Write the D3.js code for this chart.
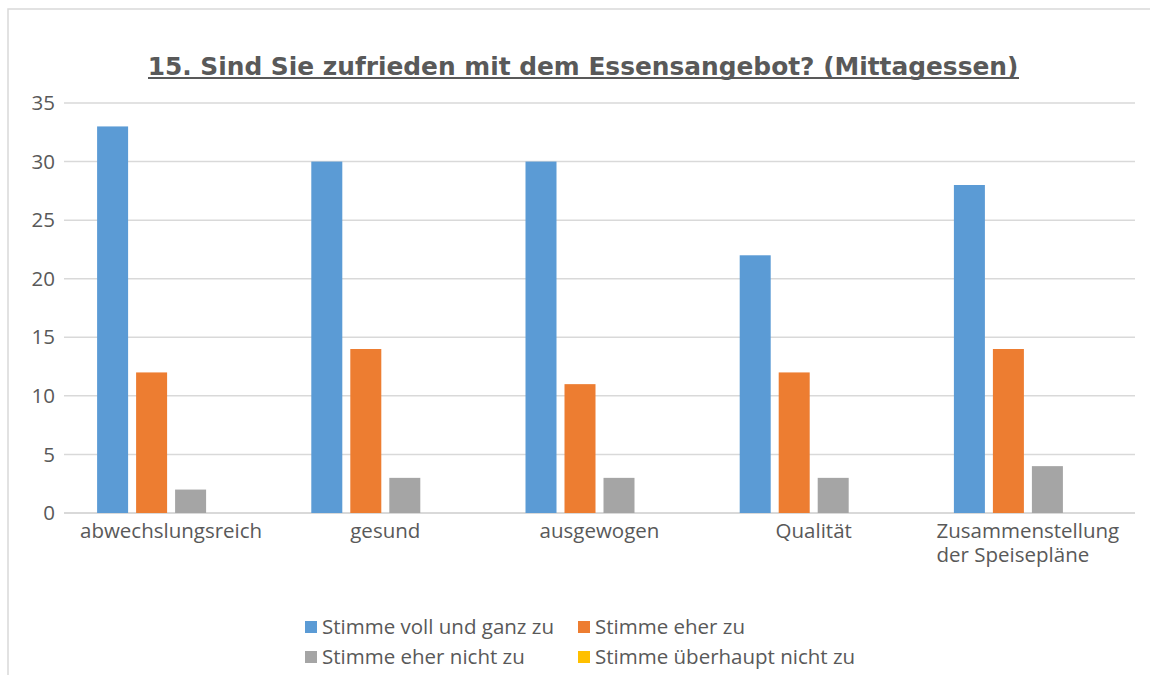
<!DOCTYPE html>
<html lang="de">
<head>
<meta charset="UTF-8">
<title>15. Sind Sie zufrieden mit dem Essensangebot?</title>
<script src="https://d3js.org/d3.v7.min.js"></script>
<style>
    body { margin: 0; background: #fff; }
    svg text { font-family: 'Open Sans', Lato, sans-serif; fill: #595959; }
</style>
</head>
<body>
<svg id="chart" width="1150" height="675"></svg>
<script>
    var categories = ['abwechslungsreich', 'gesund', 'ausgewogen', 'Qualität', 'Zusammenstellung der Speisepläne'];
    var seriesNames = ['Stimme voll und ganz zu', 'Stimme eher zu', 'Stimme eher nicht zu', 'Stimme überhaupt nicht zu'];
    var vollUndGanz = [33, 30, 30, 22, 28];
    var eherZu = [12, 14, 11, 12, 14];
    var eherNicht = [2, 3, 3, 3, 4];
    var ueberhauptNicht = [0, 0, 0, 0, 0];
    var yTicks = [0, 5, 10, 15, 20, 25, 30, 35];
    var colors = ['#5B9BD5', '#ED7D31', '#A5A5A5', '#FFC000'];

    var series = [vollUndGanz, eherZu, eherNicht, ueberhauptNicht];

    var svg = d3.select('#chart');
    var fontSize = '20.5px';

    // chart frame
    svg.append('rect')
        .attr('x', 8).attr('y', 9)
        .attr('width', 1160).attr('height', 700)
        .attr('fill', 'none')
        .attr('stroke', '#d9d9d9')
        .attr('stroke-width', 1.5);

    // title (underlined), sized to span the same width as the original
    var title = svg.append('text')
        .attr('x', 583).attr('y', 75)
        .attr('text-anchor', 'middle')
        .style('font-family', "'DejaVu Sans', sans-serif")
        .style('font-weight', 'bold')
        .style('font-size', '28px')
        .text('15. Sind Sie zufrieden mit dem Essensangebot? (Mittagessen)');
    var tw = title.node().getComputedTextLength();
    title.style('font-size', (28 * 871 / tw) + 'px');
    svg.append('line')
        .attr('x1', 148).attr('x2', 1019)
        .attr('y1', 78).attr('y2', 78)
        .attr('stroke', '#595959')
        .attr('stroke-width', 2);

    var plotLeft = 64, plotRight = 1135, plotTop = 103, plotBottom = 513;

    var y = d3.scaleLinear().domain([0, 35]).range([plotBottom, plotTop]);
    var x0 = d3.scaleBand().domain(categories).range([plotLeft, plotRight]).padding(0);
    var x1 = d3.scaleBand().domain(d3.range(seriesNames.length))
        .range([x0.bandwidth() / 2 - 74, x0.bandwidth() / 2 + 74])
        .paddingInner(8 / 39).paddingOuter(0);

    // gridlines
    svg.append('g').selectAll('line')
        .data(yTicks)
        .enter().append('line')
        .attr('x1', plotLeft).attr('x2', plotRight)
        .attr('y1', function (d) { return y(d); })
        .attr('y2', function (d) { return y(d); })
        .attr('stroke', '#d9d9d9')
        .attr('stroke-width', function (d) { return d === 0 ? 2 : 1.5; });

    // y labels
    svg.append('g').selectAll('text')
        .data(yTicks)
        .enter().append('text')
        .attr('x', 55)
        .attr('y', function (d) { return y(d); })
        .attr('dy', '0.35em')
        .attr('text-anchor', 'end')
        .style('font-size', fontSize)
        .text(function (d) { return d; });

    // bars
    var groups = svg.append('g').selectAll('g')
        .data(categories)
        .enter().append('g')
        .attr('transform', function (d) { return 'translate(' + x0(d) + ',0)'; });

    groups.selectAll('rect')
        .data(function (d, i) { return series.map(function (s, j) { return {s: j, v: s[i]}; }); })
        .enter().append('rect')
        .attr('x', function (d) { return x1(d.s); })
        .attr('width', x1.bandwidth())
        .attr('y', function (d) { return y(d.v); })
        .attr('height', function (d) { return plotBottom - y(d.v); })
        .attr('fill', function (d) { return colors[d.s]; });

    // x labels (long one wraps onto two left-aligned lines)
    svg.append('g').selectAll('text')
        .data(categories)
        .enter().append('text')
        .attr('y', 538)
        .style('font-size', fontSize)
        .each(function (d) {
            var t = d3.select(this);
            var cx = x0(d) + x0.bandwidth() / 2;
            var parts = d === 'Zusammenstellung der Speisepläne' ? ['Zusammenstellung', 'der Speisepläne'] : [d];
            if (parts.length === 1) {
                t.attr('x', cx).attr('text-anchor', 'middle').text(d);
                return;
            }
            var first = t.append('tspan').attr('dy', 0).text(parts[0]);
            var w = first.node().getComputedTextLength();
            first.attr('x', cx - w / 2);
            t.append('tspan').attr('x', cx - w / 2).attr('dy', 24).text(parts[1]);
        });

    // legend
    var legendPos = [[305, 627], [578, 627], [305, 657], [578, 657]];
    var legend = svg.append('g').selectAll('g')
        .data(seriesNames)
        .enter().append('g')
        .attr('transform', function (d, i) { return 'translate(' + legendPos[i][0] + ',' + legendPos[i][1] + ')'; });
    legend.append('rect')
        .attr('x', 0).attr('y', -6)
        .attr('width', 12).attr('height', 12)
        .attr('fill', function (d, i) { return colors[i]; });
    legend.append('text')
        .attr('x', 17).attr('y', 0)
        .attr('dy', '0.35em')
        .style('font-size', fontSize)
        .text(function (d) { return d; });
</script>
</body>
</html>
